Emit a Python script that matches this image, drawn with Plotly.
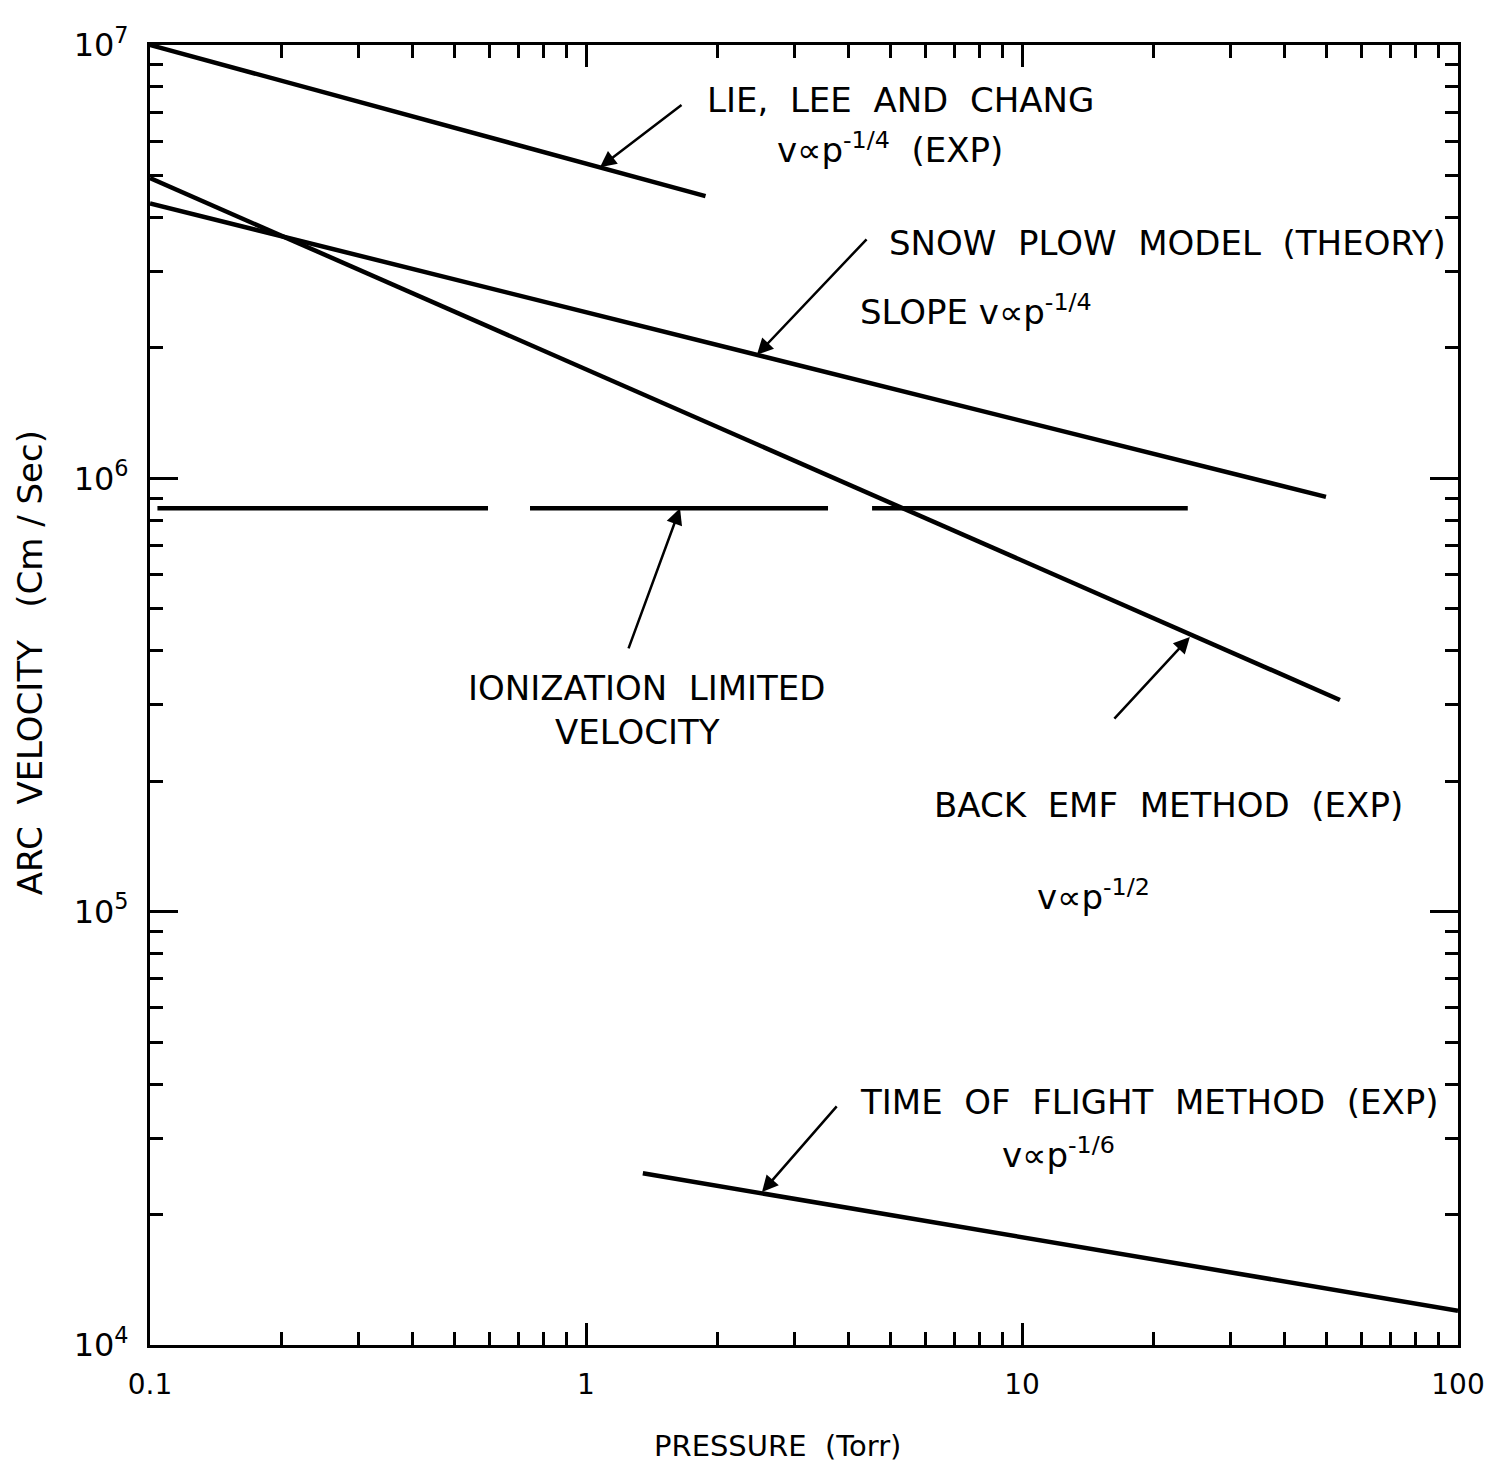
import plotly.graph_objects as go

# ---- data ----
pressure_lie = [0.1, 1.88]
velocity_lie = [1.0e7, 4.48e6]

pressure_snow = [0.1, 49.8]
velocity_snow = [4.31e6, 9.06e5]

pressure_emf = [0.1, 53.6]
velocity_emf = [4.93e6, 3.08e5]

pressure_ion = [0.104, 0.596, None, 0.744, 3.59, None, 4.53, 24.0]
velocity_ion = [8.53e5, 8.53e5, None, 8.53e5, 8.53e5, None, 8.53e5, 8.53e5]

pressure_tof = [1.35, 100]
velocity_tof = [2.49e4, 1.20e4]

x_tickvals = [0.1, 1, 10, 100]
x_ticktext = ["0.1", "1", "10", "100"]
y_tickvals = [1e4, 1e5, 1e6, 1e7]
y_ticktext = ["10<sup>4</sup>", "10<sup>5</sup>", "10<sup>6</sup>", "10<sup>7</sup>"]

FONT = "DejaVu Sans"
LW = 4.5

fig = go.Figure()
for xs, ys in [(pressure_lie, velocity_lie), (pressure_snow, velocity_snow),
               (pressure_emf, velocity_emf), (pressure_ion, velocity_ion),
               (pressure_tof, velocity_tof)]:
    fig.add_trace(go.Scatter(x=xs, y=ys, mode="lines",
                             line=dict(color="black", width=LW),
                             connectgaps=False, showlegend=False, hoverinfo="skip"))

minor_x = [m * d for d in (0.1, 1, 10) for m in range(2, 10)]
minor_y = [m * d for d in (1e4, 1e5, 1e6) for m in range(2, 10)]

fig.update_xaxes(type="log", range=[-1, 2], tickvals=x_tickvals, ticktext=x_ticktext,
                 ticks="inside", ticklen=22, tickwidth=2.5, tickcolor="black",
                 showline=True, linewidth=3, linecolor="black", mirror="allticks",
                 showgrid=False, zeroline=False, automargin=False,
                 minor=dict(tickvals=minor_x, ticks="inside", ticklen=13, tickwidth=2.5,
                            tickcolor="black", showgrid=False),
                 tickfont=dict(family=FONT, size=28, color="black"),
                 ticklabelstandoff=12)
fig.update_yaxes(type="log", range=[4, 7], tickvals=y_tickvals, ticktext=y_ticktext,
                 ticks="inside", ticklen=28, tickwidth=2.5, tickcolor="black",
                 showline=True, linewidth=3, linecolor="black", mirror="allticks",
                 showgrid=False, zeroline=False, automargin=False,
                 minor=dict(tickvals=minor_y, ticks="inside", ticklen=13, tickwidth=2.5,
                            tickcolor="black", showgrid=False),
                 tickfont=dict(family=FONT, size=32, color="black"),
                 ticklabelstandoff=12)

tf = dict(family=FONT, size=34, color="black")
texts = [
    # (text, log10 x, log10 y, xanchor)
    ("LIE,  LEE  AND  CHANG", 0.273, 6.873, "left"),
    ("v∝p<sup>-1/4</sup>  (EXP)", 0.433, 6.762, "left"),
    ("SNOW  PLOW  MODEL  (THEORY)", 0.690, 6.543, "left"),
    ("SLOPE v∝p<sup>-1/4</sup>", 0.624, 6.388, "left"),
    ("IONIZATION  LIMITED", 0.140, 5.516, "center"),
    ("VELOCITY", 0.117, 5.414, "center"),
    ("BACK  EMF  METHOD  (EXP)", 0.794, 5.246, "left"),
    ("v∝p<sup>-1/2</sup>", 1.030, 5.038, "left"),
    ("TIME  OF  FLIGHT  METHOD  (EXP)", 0.624, 4.561, "left"),
    ("v∝p<sup>-1/6</sup>", 0.950, 4.443, "left"),
]
for t, x, y, xa in texts:
    fig.add_annotation(text=t, x=x, y=y, xref="x", yref="y", xanchor=xa,
                       yanchor="middle", showarrow=False, font=tf)

arrows = [
    # head (x, y), tail (ax, ay) in log10 units
    (0.032, 6.718, 0.2225, 6.864),
    (0.392, 6.285, 0.6468, 6.555),
    (0.2156, 5.931, 0.0963, 5.604),
    (1.385, 5.634, 1.2087, 5.442),
    (0.4037, 4.353, 0.578, 4.554),
]
for x, y, ax, ay in arrows:
    fig.add_annotation(x=x, y=y, ax=ax, ay=ay, xref="x", yref="y", axref="x", ayref="y",
                       text="", showarrow=True, arrowhead=2, arrowsize=1.3,
                       arrowwidth=2.5, arrowcolor="black")

fig.add_annotation(text="PRESSURE  (Torr)", x=0.48, y=-0.078, xref="paper", yref="paper",
                   showarrow=False, font=dict(family=FONT, size=29, color="black"),
                   xanchor="center", yanchor="middle")
fig.add_annotation(text="ARC  VELOCITY   (Cm / Sec)", x=-0.092, y=0.525, xref="paper",
                   yref="paper", showarrow=False, textangle=-90,
                   font=dict(family=FONT, size=34, color="black"),
                   xanchor="center", yanchor="middle")

fig.update_layout(width=1492, height=1471, plot_bgcolor="white", paper_bgcolor="white",
                  margin=dict(l=150, r=34, t=45, b=126), showlegend=False)

fig.write_html("out.html")
